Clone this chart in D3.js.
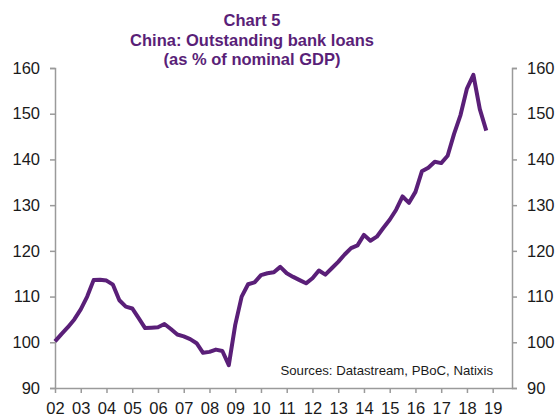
<!DOCTYPE html>
<html>
<head>
<meta charset="utf-8">
<script src="https://cdn.jsdelivr.net/npm/d3@7"></script>
<style>
  body { margin: 0; background: #fff; }
  svg { display: block; font-family: "Liberation Sans", Arial, sans-serif; }
</style>
</head>
<body>
<script>
// chart values (quarterly, % of nominal GDP)
var startYear = 2002;
var loans = [
  100.2, 101.8, 103.3, 105.0, 107.2, 110.0, 113.6, 113.7,
  113.5, 112.6, 109.2, 107.8, 107.4, 105.3, 103.1, 103.2,
  103.3, 104.0, 102.9, 101.7, 101.3, 100.7, 99.8, 97.7,
  97.9, 98.4, 98.1, 95.0, 103.8, 110.0, 112.7, 113.1,
  114.7, 115.1, 115.3, 116.5, 115.1, 114.3, 113.6, 112.9,
  114.0, 115.7, 114.8, 116.2, 117.6, 119.2, 120.6, 121.2,
  123.5, 122.2, 123.1, 125.0, 126.8, 129.0, 131.9, 130.5,
  132.9, 137.4, 138.2, 139.5, 139.2, 140.8, 145.6, 149.7,
  155.5, 158.5, 151.0, 146.3
];
var yearTicks = d3.range(2002, 2020);
var yTicks = [90, 100, 110, 120, 130, 140, 150, 160];
var titleLines = ["Chart 5", "China: Outstanding bank loans", "(as % of nominal GDP)"];
var sourceText = "Sources: Datastream, PBoC, Natixis";

// plot box (note: "top" is reserved on window, so use a margin object)
var W = 557, H = 416;
var plot = { left: 55, right: 512, top: 68, bottom: 388 };
var purple = "#5a1f78";
var axisGrey = "#9a9a9a";

var svg = d3.select("body").append("svg")
    .attr("width", W)
    .attr("height", H);

var x = d3.scaleLinear().domain([2002, 2019.75]).range([plot.left, plot.right]);
var y = d3.scaleLinear().domain([90, 160]).range([plot.bottom, plot.top]);

// title
svg.append("g").selectAll("text")
    .data(titleLines)
    .enter().append("text")
    .attr("x", 252)
    .attr("y", (d, i) => 26 + i * 19.5)
    .attr("text-anchor", "middle")
    .attr("font-size", "16.5px")
    .attr("font-weight", "bold")
    .attr("fill", purple)
    .text(d => d);

function styleAxis(g) {
    g.select(".domain").attr("stroke", axisGrey).attr("stroke-width", 1.5);
    g.selectAll(".tick line").attr("stroke", axisGrey).attr("stroke-width", 1.5);
    g.selectAll(".tick text")
        .attr("fill", "#1a1a1a")
        .attr("font-size", "16.5px")
        .attr("font-family", "Liberation Sans, Arial, sans-serif");
}

// left axis
svg.append("g")
    .attr("transform", "translate(" + plot.left + ",0)")
    .call(d3.axisLeft(y).tickValues(yTicks).tickSize(5).tickPadding(10).tickSizeOuter(5))
    .call(styleAxis);

// right axis
svg.append("g")
    .attr("transform", "translate(" + plot.right + ",0)")
    .call(d3.axisRight(y).tickValues(yTicks).tickSize(5).tickPadding(10).tickSizeOuter(5))
    .call(styleAxis);

// bottom axis
svg.append("g")
    .attr("transform", "translate(0," + plot.bottom + ")")
    .call(d3.axisBottom(x).tickValues(yearTicks).tickSize(5).tickSizeOuter(0).tickPadding(9)
        .tickFormat(d => String(d % 100).padStart(2, "0")))
    .call(styleAxis);

// the line
var line = d3.line()
    .x((d, i) => x(startYear + i * 0.25))
    .y(d => y(d));

svg.append("path")
    .datum(loans)
    .attr("fill", "none")
    .attr("stroke", purple)
    .attr("stroke-width", 4)
    .attr("stroke-linejoin", "round")
    .attr("d", line);

// source note
svg.append("text")
    .attr("x", 493)
    .attr("y", 375)
    .attr("text-anchor", "end")
    .attr("font-size", "13.2px")
    .attr("fill", "#1a1a1a")
    .text(sourceText);
</script>
</body>
</html>
